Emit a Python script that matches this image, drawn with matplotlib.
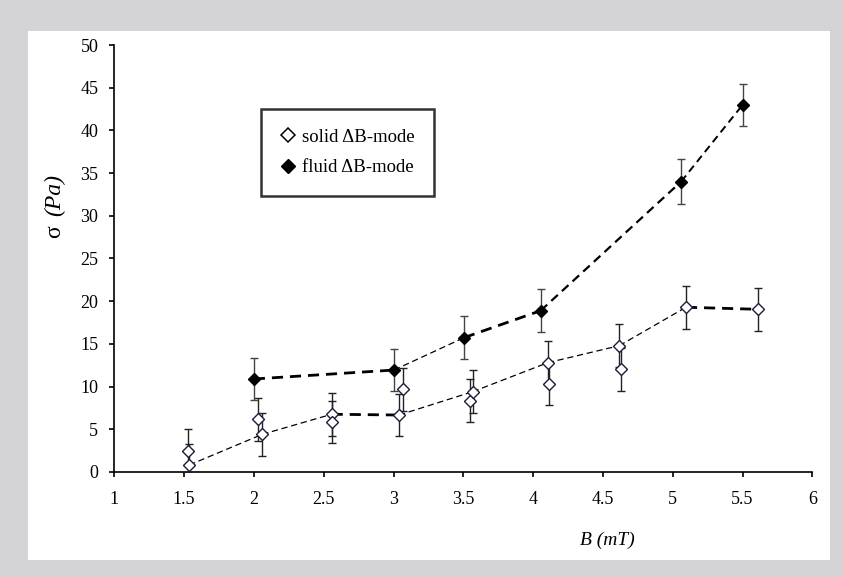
import matplotlib
matplotlib.use('Agg')
import matplotlib.pyplot as plt
from matplotlib.patches import Rectangle
from matplotlib.lines import Line2D

# solid dB-mode: two runs per field value
solid_x = [1.531, 1.537, 2.031, 2.06, 2.557, 2.561, 3.04, 3.066,
           3.548, 3.567, 4.105, 4.116, 4.617, 4.627, 5.095, 5.611]
solid_y = [2.49, 0.82, 6.17, 4.41, 6.76, 5.85, 6.67, 9.68,
           8.35, 9.40, 12.80, 10.30, 14.79, 12.03, 19.29, 19.05]
solid_err = [2.5] * len(solid_x)
solid_line_idx = [1, 3, 4, 6, 9, 10, 12, 14, 15]   # points joined by the dashed line
solid_seg_w = [0.9, 0.9, 2.0, 0.9, 0.9, 0.9, 0.9, 2.0]

# fluid dB-mode
fluid_x = [2.0, 3.004, 3.505, 4.054, 5.06, 5.50]
fluid_y = [10.89, 11.94, 15.73, 18.89, 34.0, 42.98]
fluid_err = [2.5, 2.5, 2.5, 2.5, 2.6, 2.5]
fluid_seg_w = [2.0, 0.9, 2.0, 1.6, 1.4]

x_ticks = [1, 1.5, 2, 2.5, 3, 3.5, 4, 4.5, 5, 5.5, 6]
y_ticks = list(range(0, 51, 5))

plt.rcParams['font.family'] = ['Liberation Serif', 'DejaVu Serif']

fig = plt.figure(figsize=(8.43, 5.77), dpi=100, facecolor='#d4d4d6')
# white panel inside the grey border
fig.patches.append(Rectangle((28 / 843, 1 - 560 / 577), 802 / 843, 529 / 577,
                             transform=fig.transFigure, facecolor='white',
                             edgecolor='none', zorder=-5))
ax = fig.add_axes([0.1356, 0.1820, 0.828, 0.740])
ax.set_facecolor('none')

# dashed connecting lines, segment by segment
def dashed_path(xs, ys, widths):
    for i, w in enumerate(widths):
        ax.plot(xs[i:i + 2], ys[i:i + 2], color='black', lw=w,
                dashes=(4, 2.5) if w > 1.2 else (5, 3), zorder=2)

dashed_path([solid_x[i] for i in solid_line_idx],
            [solid_y[i] for i in solid_line_idx], solid_seg_w)
dashed_path(fluid_x, fluid_y, fluid_seg_w)

ax.errorbar(solid_x, solid_y, yerr=solid_err, fmt='none', ecolor='#222222',
            elinewidth=1.0, capsize=2.6, capthick=1.0, zorder=3)
ax.errorbar(fluid_x, fluid_y, yerr=fluid_err, fmt='none', ecolor='#444444',
            elinewidth=1.0, capsize=2.6, capthick=1.0, zorder=3)
ax.plot(solid_x, solid_y, 'D', ms=6, mfc='white', mec='#1c1c3a', mew=1.0,
        ls='none', zorder=4)
ax.plot(fluid_x, fluid_y, 'D', ms=6.3, mfc='black', mec='black', ls='none', zorder=4)

ax.set_xlim(1, 6)
ax.set_ylim(0, 50)
ax.set_xticks(x_ticks)
ax.set_xticklabels([f'{t:g}' for t in x_ticks])
ax.set_yticks(y_ticks)
for s in ['top', 'right']:
    ax.spines[s].set_visible(False)
for s in ['left', 'bottom']:
    ax.spines[s].set_linewidth(1.2)
ax.tick_params(axis='both', direction='out', length=3.5, width=1.2, labelsize=13)
ax.tick_params(axis='x', pad=10)
ax.tick_params(axis='y', pad=8)

ax.set_xlabel('B (mT)', fontsize=14, style='italic', va='center')
ax.xaxis.set_label_coords(0.706, -0.159)
ax.set_ylabel('(Pa)', fontsize=17, style='italic', va='center')
ax.yaxis.set_label_coords(-0.085, 0.648)
ax.text(-0.085, 0.562, 'σ', fontsize=17, rotation=90, ha='center', va='center',
        transform=ax.transAxes)

handles = [Line2D([], [], marker='D', ls='none', ms=7.2, mfc='white', mec='black', mew=1.1),
           Line2D([], [], marker='D', ls='none', ms=7.6, mfc='black', mec='black')]
leg = ax.legend(handles, ['solid ΔB-mode', 'fluid ΔB-mode'], loc='upper left',
                bbox_to_anchor=(0.2097, 0.850), fontsize=13.5, frameon=True,
                fancybox=False, borderpad=1.05, handlelength=0.8,
                handletextpad=0.35, labelspacing=0.7, borderaxespad=0)
leg.get_frame().set_edgecolor('black')
leg.get_frame().set_linewidth(1.8)

fig.savefig('out.png', dpi=100, facecolor=fig.get_facecolor())
